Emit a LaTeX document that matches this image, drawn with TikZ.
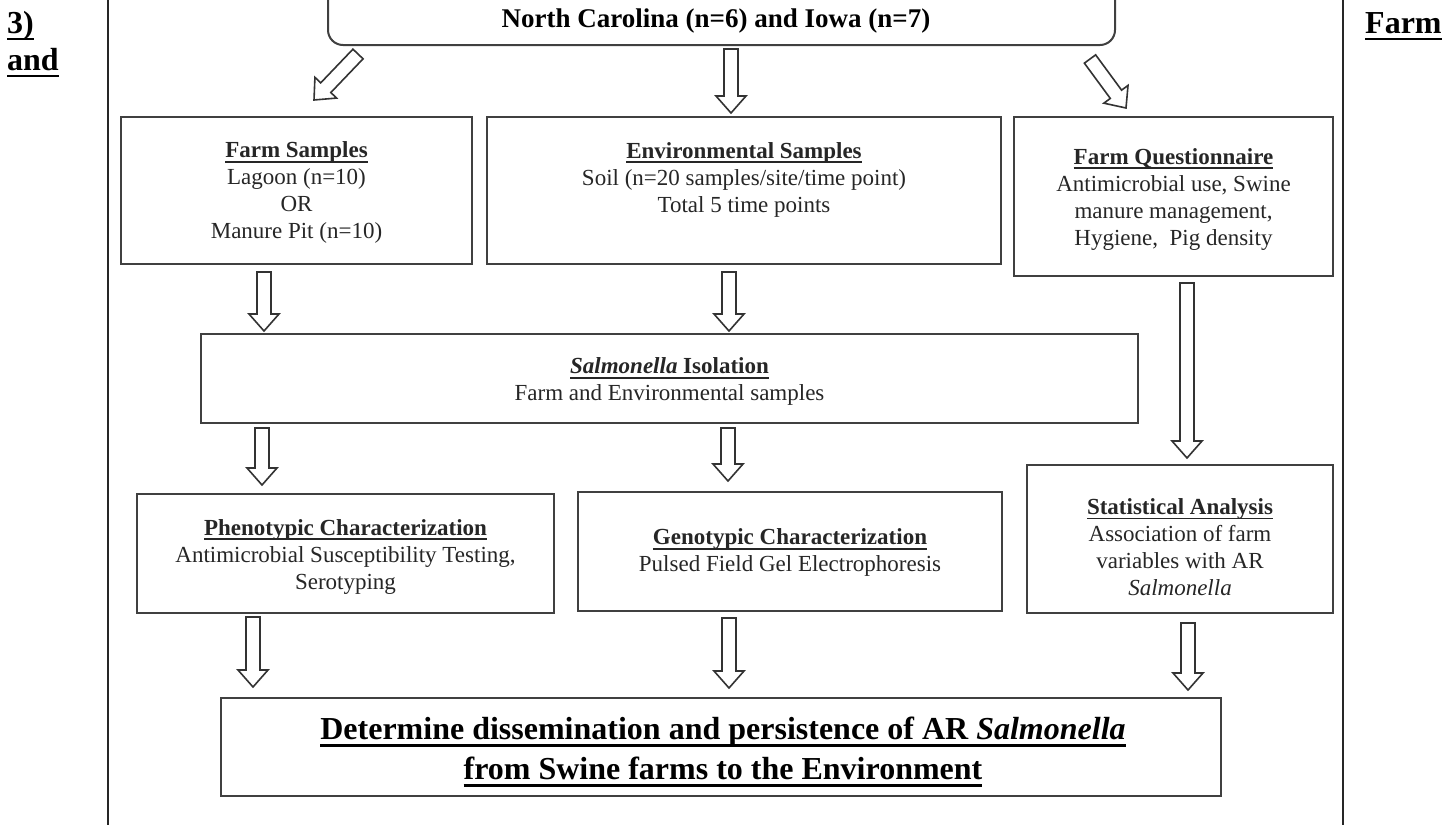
\documentclass[tikz,border=0pt]{standalone}
\usepackage{fontspec}
\setmainfont{Liberation Serif}
\usetikzlibrary{calc}
\newcommand\myul[1]{\setbox0\hbox{#1}\rlap{\rule[-0.22em]{\wd0}{0.075em}}\box0}
\newcommand\barrow[2]{\draw[barrowsty] let \p1=(#1), \p2=(#2), \n1={atan2(\y2-\y1,\x2-\x1)}, \n2={veclen(\x2-\x1,\y2-\y1)} in [shift={(\p1)}, rotate=\n1] (0pt,-7pt) -- ({\n2*1pt-17pt},-7pt) -- ({\n2*1pt-17pt},-15pt) -- ({\n2*1pt},0pt) -- ({\n2*1pt-17pt},15pt) -- ({\n2*1pt-17pt},7pt) -- (0pt,7pt) -- cycle;}
\tikzset{
  box/.style={draw=black!75, line width=2pt, fill=white, inner sep=0pt},
  txt/.style={align=center, text=black!85, font=\fontsize{23}{27}\selectfont, inner sep=0pt},
  barrowsty/.style={draw=black!80, line width=1.6pt, fill=white, line join=miter},
  side/.style={anchor=base west, inner sep=0pt, font=\fontsize{32}{38}\selectfont\bfseries},
}
\begin{document}
\begin{tikzpicture}[x=1pt,y=-1pt]
\useasboundingbox (0,0) rectangle (1456,825);
\clip (0,0) rectangle (1456,825);
\fill[white] (0,0) rectangle (1456,825);
% page frame lines
\coordinate (lt) at (108,0); \coordinate (lb) at (108,825);
\coordinate (rt) at (1343,0); \coordinate (rb) at (1343,825);
\draw[line width=2pt, black!85] (lt) -- (lb);
\draw[line width=2pt, black!85] (rt) -- (rb);
% side labels
\node[side] (lab3) at (7,33) {\myul{3)}};
\node[side] (labAnd) at (7,70) {\myul{and}};
\node[side] (labFarm) at (1365,33) {\myul{Farm}};
% boxes
\node[box, rounded corners=15pt, minimum width=787pt, minimum height=80pt] (top) at (721.5,5) {};
\node[anchor=base, inner sep=0pt, font=\fontsize{27}{32}\selectfont\bfseries] (topT) at (716,27) {North Carolina (n=6) and Iowa (n=7)};
\node[box, minimum width=351pt, minimum height=147pt] (farm) at (296.5,190.5) {};
\node[box, minimum width=514pt, minimum height=147pt] (env) at (744,190.5) {};
\node[box, minimum width=319pt, minimum height=159pt] (fq) at (1173.5,196.5) {};
\node[box, minimum width=937pt, minimum height=89pt] (salm) at (669.5,378.5) {};
\node[box, minimum width=417pt, minimum height=119pt] (pheno) at (345.5,553.5) {};
\node[box, minimum width=424pt, minimum height=119pt] (geno) at (790,551.5) {};
\node[box, minimum width=306pt, minimum height=148pt] (stats) at (1180,539) {};
\node[box, minimum width=1000pt, minimum height=98pt] (final) at (721,747) {};
% texts
\node[txt] (farmT) at (296.5,192.5) {\textbf{\myul{Farm Samples}}\\Lagoon (n=10)\\OR\\Manure Pit (n=10)};
\node[txt] (envT) at (744,179.5) {\textbf{\myul{Environmental Samples}}\\Soil (n=20 samples/site/time point)\\Total 5 time points};
\node[txt] (fqT) at (1173.5,199) {\textbf{\myul{Farm Questionnaire}}\\Antimicrobial use, Swine\\manure management,\\Hygiene,~ Pig density};
\node[txt] (salmT) at (669.5,381.5) {\textbf{\myul{\textit{Salmonella} Isolation}}\\Farm and Environmental samples};
\node[txt] (phenoT) at (345.5,556.5) {\textbf{\myul{Phenotypic Characterization}}\\Antimicrobial Susceptibility Testing,\\Serotyping};
\node[txt] (genoT) at (790,552.5) {\textbf{\myul{Genotypic Characterization}}\\Pulsed Field Gel Electrophoresis};
\node[txt] (statsT) at (1180,547) {\textbf{\myul{Statistical Analysis}}\\Association of farm\\variables with AR\\\textit{Salmonella}};
\node[txt, text=black, font=\fontsize{32}{40}\selectfont\bfseries] (finalT) at (723,752) {\myul{Determine dissemination and persistence of AR \textit{Salmonella}}\\\myul{from Swine farms to the Environment}};
% arrow end points
\coordinate (a1s) at (358,54);  \coordinate (a1e) at (314,100);
\coordinate (a2s) at (731,49);  \coordinate (a2e) at (731,113);
\coordinate (a3s) at (1090,59); \coordinate (a3e) at (1126,108);
\coordinate (a4s) at (264,272); \coordinate (a4e) at (264,331);
\coordinate (a5s) at (729,272); \coordinate (a5e) at (729,331);
\coordinate (a6s) at (1187,283); \coordinate (a6e) at (1187,458);
\coordinate (a7s) at (262,428); \coordinate (a7e) at (262,485);
\coordinate (a8s) at (728,428); \coordinate (a8e) at (728,481);
\coordinate (a9s) at (253,617); \coordinate (a9e) at (253,687);
\coordinate (a10s) at (729,618); \coordinate (a10e) at (729,688);
\coordinate (a11s) at (1188,623); \coordinate (a11e) at (1188,690);
\barrow{a1s}{a1e}
\barrow{a2s}{a2e}
\barrow{a3s}{a3e}
\barrow{a4s}{a4e}
\barrow{a5s}{a5e}
\barrow{a6s}{a6e}
\barrow{a7s}{a7e}
\barrow{a8s}{a8e}
\barrow{a9s}{a9e}
\barrow{a10s}{a10e}
\barrow{a11s}{a11e}
\end{tikzpicture}
\end{document}
